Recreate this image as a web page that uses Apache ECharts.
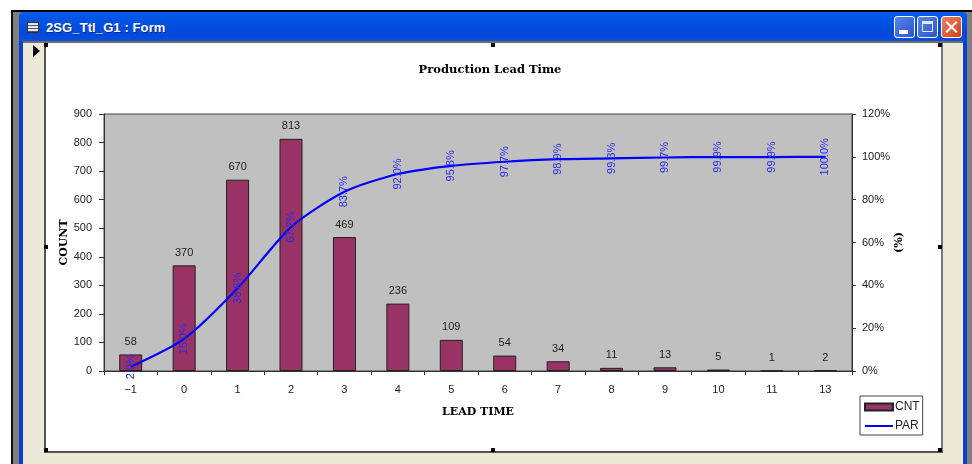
<!DOCTYPE html>
<html>
<head>
<meta charset="utf-8">
<title>Production Lead Time</title>
<script src="https://cdn.jsdelivr.net/npm/echarts@6/dist/echarts.min.js"></script>
<style>
html,body{margin:0;padding:0;background:#fff;overflow:hidden;}
#win{position:absolute;left:0;top:0;width:972px;height:464px;}
#win div{position:absolute;box-sizing:border-box;}
.frame{left:11px;top:10px;width:961px;height:454px;background:#7f7f7f;border-top:2px solid #000;border-left:2px solid #111;}
.blue{left:19px;top:12px;width:948px;height:452px;background:#0a3fd0;border-radius:5px 5px 0 0;}
.bar{left:19px;top:12px;width:948px;height:29px;border-radius:5px 5px 0 0;background:linear-gradient(#0a5be8,#0054e3 30%,#0248d8 75%,#0a4fe0);}
.face{left:23px;top:41px;width:940px;height:423px;background:#ece9d8;border-top:2px solid #716f64;}
.form{left:44px;top:43px;width:899px;height:410px;background:#fff;border-left:2px solid #555;border-right:2px solid #777;border-bottom:2px solid #555;}
.caption{left:46px;top:20px;font:bold 13px "Liberation Sans",sans-serif;letter-spacing:0.1px;color:#fff;white-space:nowrap;text-shadow:1px 1px 0 #0a2f9c;}
.icon{left:27px;top:22px;width:12px;height:11px;background:repeating-linear-gradient(#e8e8e8 0 2px,#556 2px 3px);border:1px solid #333;}
.arrow{left:33px;top:45px;width:0;height:0;border-left:7px solid #000;border-top:6px solid transparent;border-bottom:6px solid transparent;}
.btn{top:16px;width:21px;height:22px;border:1px solid #fff;border-radius:3px;background:linear-gradient(135deg,#5c83e8,#2a55cc);}
.close{background:linear-gradient(135deg,#e8835f,#d2401a);}
.x{left:2px;top:9px;width:15px;height:2px;background:#fff;}
.handle{width:4px;height:4px;background:#000;}
#main{position:absolute;left:0;top:0;width:972px;height:464px;}
</style>
</head>
<body>
<div id="win">
	<div class="frame"></div>
	<div class="blue"></div>
	<div class="bar"></div>
	<div class="icon"></div>
	<div class="caption">2SG_Ttl_G1 : Form</div>
	<div class="btn" style="left:894px;"><div style="left:4px;top:13px;width:9px;height:4px;background:#fff;"></div></div>
	<div class="btn" style="left:917px;"><div style="left:4px;top:4px;width:11px;height:11px;border:1px solid #dfe8ff;border-top-width:3px;"></div></div>
	<div class="btn close" style="left:941px;">
		<div class="x" style="transform:rotate(45deg);"></div>
		<div class="x" style="transform:rotate(-45deg);"></div>
	</div>
	<div class="face"></div>
	<div class="arrow"></div>
	<div class="form"></div>
	<div class="handle" style="left:44px;top:43px;"></div>
	<div class="handle" style="left:491px;top:43px;"></div>
	<div class="handle" style="left:938px;top:43px;"></div>
	<div class="handle" style="left:44px;top:245px;"></div>
	<div class="handle" style="left:938px;top:245px;"></div>
	<div class="handle" style="left:44px;top:448px;"></div>
	<div class="handle" style="left:491px;top:448px;"></div>
	<div class="handle" style="left:938px;top:448px;"></div>
</div>
<div id="main"></div>
<script>
var categories=['-1','0','1','2','3','4','5','6','7','8','9','10','11','13'];
var cnt=[58,370,670,813,469,236,109,54,34,11,13,5,1,2];
var par=[2.0,15.0,38.6,67.2,83.7,92.0,95.8,97.7,98.9,99.3,99.7,99.9,99.9,100.0];

var myChart=echarts.init(document.getElementById('main'),null,{renderer:'canvas'});
var sans='"Liberation Sans",Arial,sans-serif';
var serif='"DejaVu Serif",serif';
var option={
	animation:false,
	backgroundColor:'transparent',
	textStyle:{fontFamily:sans,color:'#222'},
	title:{
		text:'Production Lead Time',
		left:485,top:59,textAlign:'center',
		textStyle:{fontFamily:serif,fontSize:11.5,fontWeight:'bold',color:'#000'}
	},
	legend:{
		orient:'vertical',left:860,top:396,
		itemWidth:28,itemHeight:7,itemGap:7,padding:[5,3,3,4],
		backgroundColor:'#fff',borderColor:'#444',borderWidth:1,
		textStyle:{fontFamily:sans,fontSize:12,color:'#222',padding:[0,0,0,-3]},
		data:[{name:'CNT',icon:'rect'},{name:'PAR',itemStyle:{opacity:0}}]
	},
	grid:{left:104,top:114,width:748,height:257,show:true,backgroundColor:'#c0c0c0',borderColor:'#444',borderWidth:1},
	xAxis:{
		type:'category',data:categories,
		name:'LEAD TIME',nameLocation:'middle',nameGap:36,nameMoveOverlap:false,
		nameTextStyle:{fontFamily:serif,fontSize:11,fontWeight:'bold',color:'#000'},
		axisLine:{lineStyle:{color:'#333'}},
		axisTick:{show:true,length:4,lineStyle:{color:'#333'}},
		axisLabel:{fontFamily:sans,fontSize:11,color:'#222',margin:13,interval:0,
			formatter:function(v){return v=='-1'?'−1':v;}}
	},
	yAxis:[{
		type:'value',min:0,max:900,interval:100,
		name:'COUNT',nameLocation:'middle',nameGap:34,nameRotate:90,nameMoveOverlap:false,
		nameTextStyle:{fontFamily:serif,fontSize:11,fontWeight:'bold',color:'#000'},
		axisLine:{show:true,lineStyle:{color:'#333'}},
		axisTick:{show:true,length:5,lineStyle:{color:'#333'}},
		axisLabel:{fontFamily:sans,fontSize:11,color:'#222',margin:12},
		splitLine:{show:false}
	},{
		type:'value',min:0,max:120,interval:20,
		name:'(%)',nameLocation:'middle',nameGap:42,nameRotate:90,nameMoveOverlap:false,
		nameTextStyle:{fontFamily:serif,fontSize:11,fontWeight:'bold',color:'#000'},
		axisLine:{show:true,lineStyle:{color:'#333'}},
		axisTick:{show:true,length:4,lineStyle:{color:'#333'}},
		axisLabel:{fontFamily:sans,fontSize:11,color:'#222',margin:10,formatter:'{value}%'},
		splitLine:{show:false}
	}],
	series:[{
		name:'CNT',type:'bar',data:cnt,barWidth:23,
		itemStyle:{color:'#993366',borderColor:'#222',borderWidth:1},
		label:{show:true,position:'top',distance:7,fontFamily:sans,fontSize:11,color:'#222'}
	},{
		name:'PAR',type:'line',yAxisIndex:1,data:par,smooth:0.25,
		symbol:'circle',symbolSize:1,showSymbol:true,
		lineStyle:{color:'#0000ff',width:2.2},
		itemStyle:{color:'#0000ff'},
		label:{show:true,position:'inside',rotate:90,fontFamily:sans,fontSize:11,color:'#2a2ae8',
			formatter:function(p){return p.value.toFixed(1)+'%';}}
	}]
};
myChart.setOption(option);
</script>
</body>
</html>
